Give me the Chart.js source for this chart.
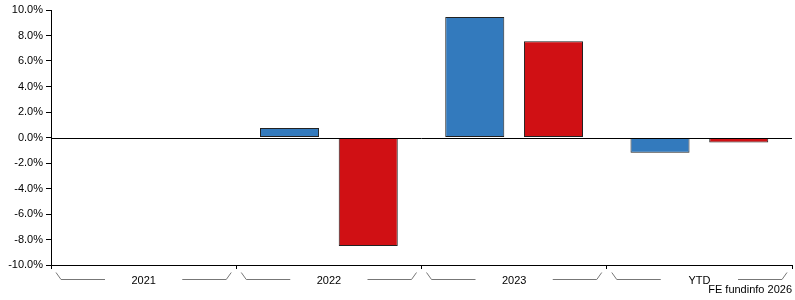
<!DOCTYPE html>
<html>
<head>
<meta charset="utf-8">
<script src="https://cdn.jsdelivr.net/npm/chart.js@4"></script>
<style>
  html, body { margin: 0; padding: 0; background: #fff; }
  #wrap { width: 795px; height: 300px; position: relative; }
</style>
</head>
<body>
<div id="wrap"><canvas id="c" width="795" height="300"></canvas></div>
<script>
// data
const categories = ['2021', '2022', '2023', 'YTD'];
const fundValues = [null, 0.75, 9.45, -1.2];
const sectorValues = [null, -8.5, 7.55, -0.4];
const yTicks = [-10, -8, -6, -4, -2, 0, 2, 4, 6, 8, 10];
const footerText = 'FE fundinfo 2026';

const FONT = 'Liberation Sans, Arial, sans-serif';

// zero line over the bars, gray brackets under each category, footer
const bracketPlugin = {
  id: 'brackets',
  afterDraw(chart) {
    const { ctx, scales: { x, y }, chartArea } = chart;
    const catW = (chartArea.right - chartArea.left) / categories.length;
    ctx.save();
    const y0 = Math.round(y.getPixelForValue(0)) + 0.5;
    ctx.strokeStyle = '#000';
    ctx.lineWidth = 1;
    ctx.beginPath();
    ctx.moveTo(chartArea.left, y0);
    ctx.lineTo(chartArea.right, y0);
    ctx.stroke();

    ctx.strokeStyle = '#777';
    categories.forEach((c, i) => {
      const left = x.getPixelForValue(i) - catW / 2;
      const right = left + catW;
      ctx.beginPath();
      ctx.moveTo(left + 5, 272.5);
      ctx.lineTo(left + 10, 279.5);
      ctx.lineTo(left + 54, 279.5);
      ctx.moveTo(right - 54, 279.5);
      ctx.lineTo(right - 10, 279.5);
      ctx.lineTo(right - 5, 272.5);
      ctx.stroke();
    });
    ctx.fillStyle = '#000';
    ctx.font = '11px ' + FONT;
    ctx.textAlign = 'right';
    ctx.textBaseline = 'middle';
    ctx.fillText(footerText, 792, 290);
    ctx.restore();
  }
};

new Chart(document.getElementById('c'), {
  type: 'bar',
  data: {
    labels: categories,
    datasets: [{
      data: fundValues,
      backgroundColor: '#337abd',
      borderColor: '#222',
      borderWidth: 1,
      borderSkipped: false
    }, {
      data: sectorValues,
      backgroundColor: '#d01014',
      borderColor: '#222',
      borderWidth: 1,
      borderSkipped: false
    }]
  },
  options: {
    responsive: false,
    animation: false,
    categoryPercentage: 0.85,
    barPercentage: 0.75,
    layout: { padding: { left: 0, top: 10, right: 3, bottom: 0 } },
    plugins: { legend: { display: false }, tooltip: { enabled: false } },
    scales: {
      x: {
        offset: true,
        afterFit: s => { s.height = 35; },
        border: { color: '#000', width: 1 },
        grid: { offset: true, drawOnChartArea: false, tickLength: 4, color: '#000' },
        ticks: { color: '#000', font: { family: FONT, size: 11 }, padding: 5 }
      },
      y: {
        min: -10,
        max: 10,
        afterFit: s => { s.width = 51; },
        afterBuildTicks: s => { s.ticks = yTicks.map(v => ({ value: v })); },
        border: { color: '#000', width: 1 },
        grid: {
          drawOnChartArea: false,
          color: '#000',
          tickColor: '#000',
          tickLength: 5
        },
        ticks: {
          color: '#000',
          font: { family: FONT, size: 11 },
          padding: 3,
          callback: v => v.toFixed(1) + '%'
        }
      }
    }
  },
  plugins: [bracketPlugin]
});
</script>
</body>
</html>
